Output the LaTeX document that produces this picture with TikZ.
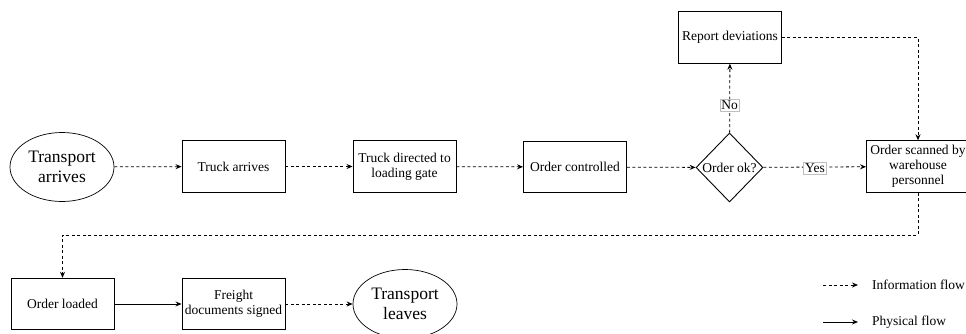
\documentclass[tikz,border=0pt]{standalone}
\usepackage{fontspec}
\setmainfont{Liberation Serif}
\usetikzlibrary{shapes.geometric,arrows.meta}
\begin{document}
\begin{tikzpicture}[x=1pt,y=-1pt,
  font=\fontsize{13.5}{15}\selectfont,
  every node/.style={inner sep=0pt, align=center},
  proc/.style={draw, line width=0.9pt, minimum width=103pt, minimum height=51.5pt},
  terminal/.style={draw, line width=0.7pt, ellipse, minimum width=104pt, minimum height=69pt,
    font=\fontsize{17.5}{19.5}\selectfont},
  decision/.style={draw, line width=0.9pt, diamond, minimum width=67pt, minimum height=69pt},
  info/.style={dashed, dash pattern=on 3pt off 2.5pt, line width=0.8pt,
    -{Stealth[length=6pt,width=5pt]}},
  phys/.style={line width=0.9pt, -{Stealth[length=6pt,width=5pt]}},
  lbl/.style={fill=white, draw=black!25, line width=0.5pt, inner sep=1.5pt}]
\useasboundingbox (0,0) rectangle (966,334);
\clip (0,0) rectangle (966,334);

% top row
\node[terminal] (arr) at (62,167) {Transport\\arrives};
\node[proc] (truck) at (233.5,166.5) {Truck arrives};
\node[proc] (gate) at (404.5,166.5) {Truck directed to\\loading gate};
\node[proc] (ctrl) at (575,167) {Order controlled};
\node[decision] (ok) at (729.5,167.5) {};
\node at (ok) {Order ok?};
\node[proc] (dev) at (730,37.5) {Report deviations};
\node[proc] (scan) at (918,166.5) {Order scanned by\\warehouse\\personnel};

% bottom row
\node[proc] (load) at (62.5,304) {Order loaded};
\node[proc] (sign) at (233.5,304) {Freight\\documents signed};
\node[terminal] (leave) at (405,304) {Transport\\leaves};

% connectors
\draw[info] (arr) -- (truck);
\draw[info] (truck) -- (gate);
\draw[info] (gate) -- (ctrl);
\draw[info] (ctrl) -- (ok);
\draw[info] (ok) -- (scan);
\node[lbl] (yes) at (815,168.5) {Yes};
\draw[info] (ok) -- (dev);
\node[lbl] (no) at (729.5,105) {No};
\draw[info] (dev.east) -| (scan.north);
\coordinate (turnR) at (918,235);
\coordinate (turnL) at (62.5,235);
\draw[info] (scan.south) -- (turnR) -- (turnL) -- (load.north);
\draw[phys] (load) -- (sign);
\draw[info] (sign) -- (leave);

% legend
\coordinate (ia) at (823,285);
\coordinate (ib) at (858,285);
\coordinate (pa) at (823,322);
\coordinate (pb) at (858,322);
\draw[info] (ia) -- (ib);
\draw[phys] (pa) -- (pb);
\node[anchor=west] (linfo) at (872,285) {Information flow};
\node[anchor=west] (lphys) at (872,322) {Physical flow};
\end{tikzpicture}
\end{document}
